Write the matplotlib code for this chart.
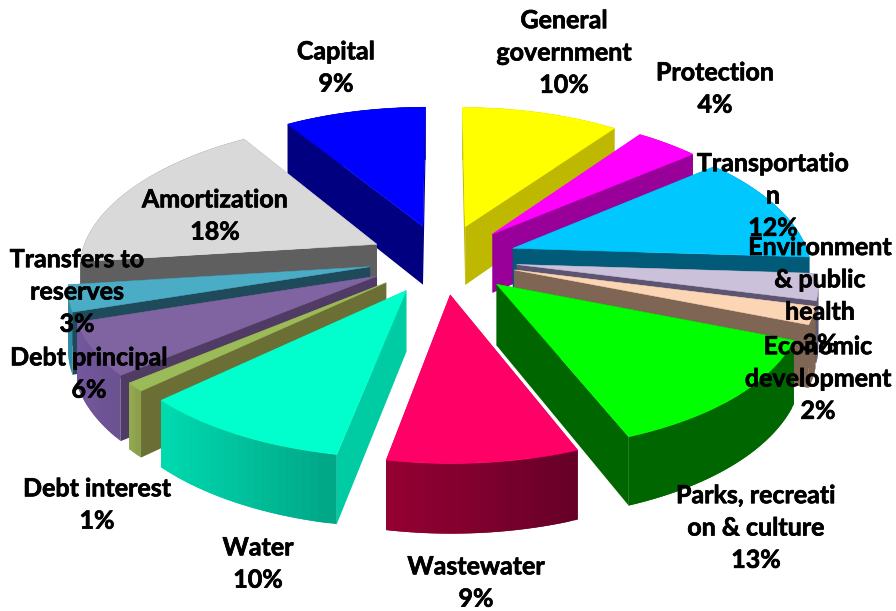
import numpy as np
import matplotlib
matplotlib.use("Agg")
import matplotlib.pyplot as plt
import matplotlib.patheffects as pe
from matplotlib.colors import to_rgb

# budget shares, clockwise from 12 o'clock
names = ["General\ngovernment", "Protection", "Transportatio\nn",
         "Environment\n& public\nhealth", "Economic\ndevelopment",
         "Parks, recreati\non & culture", "Wastewater", "Water", "Debt interest",
         "Debt principal", "Transfers to\nreserves", "Amortization", "Capital"]
values = [10, 4, 12, 3, 2, 13, 9, 10, 1, 6, 3, 18, 9]

top_colors = ["#FFFF00", "#FF00FF", "#00C8FF", "#CCC1DA", "#FCD5B5", "#00FF00", "#FF0066",
              "#00FFCC", "#9BBB59", "#8064A2", "#4BACC6", "#D9D9D9", "#0000FF"]
side_colors = ["#BFB800", "#990099", "#005A78", "#5C5470", "#7F6654", "#006600", "#8A0038",
               "#00CCA3", "#6B6F36", "#4F3B63", "#1E4A5A", "#5F5F5F", "#000080"]
# outer rim, colour at left and right end of the slice
rim_left = ["#BFB800", "#990099", "#005A78", "#5C5470", "#7F6654", "#006600", "#990033",
            "#00DDB2", "#9BAF55", "#7558A0", "#2F8CA6", "#5F5F5F", "#000080"]
rim_right = ["#BFB800", "#990099", "#005A78", "#5C5470", "#7F6654", "#006600", "#660028",
             "#00A888", "#8CA04C", "#6B5290", "#2F8CA6", "#5F5F5F", "#000080"]

# label centres in pixels
label_x = [564, 715, 773, 820, 818, 756, 476, 258, 97, 89, 77, 215, 336]
label_y = [53, 89, 196, 296, 379, 528, 583, 564, 505, 374, 292, 216, 68]

# projection of the pie plane to the picture
x0, y0 = 443, 259
rx, ry = 297, 140
persp = 0.116
back_narrow = 0.03
depth = 60
explode = 0.25


def project(X, Y, z=0.0):
    w = 1 - persp * Y
    wx = w - back_narrow * np.minimum(Y, 0)
    return x0 + rx * X / wx, y0 + (ry * Y + depth * z) / w


fig = plt.figure(figsize=(8.96, 6.11), dpi=100)
ax = fig.add_axes([0, 0, 1, 1])
ax.set_xlim(0, 896)
ax.set_ylim(611, 0)
ax.axis("off")

bounds = np.cumsum([0] + values) / sum(values) * 2 * np.pi
mids = (bounds[:-1] + bounds[1:]) / 2
draw_order = np.argsort(-np.cos(mids))

order = 1
for i in draw_order:
    a, b, m = bounds[i], bounds[i + 1], mids[i]
    ex, ey = explode * np.sin(m), -explode * np.cos(m)
    t = np.linspace(a, b, max(int((b - a) * 40), 6))
    X = ex + np.sin(t)
    Y = ey - np.cos(t)

    faces = []
    # radial walls
    for k in (0, -1):
        faces.append(((ey + Y[k]) / 2, [ex, X[k]], [ey, Y[k]], side_colors[i]))
    # outer rim, small overlapping strips for the shading
    c1, c2 = np.array(to_rgb(rim_left[i])), np.array(to_rgb(rim_right[i]))
    xa, xb = project(X[0], Y[0])[0], project(X[-1], Y[-1])[0]
    lo, hi = min(xa, xb), max(xa, xb)
    for k in range(len(t) - 1):
        n = min(k + 2, len(t) - 1)
        px = project(X[k], Y[k])[0]
        f = (px - lo) / (hi - lo) if hi > lo else 0
        faces.append(((Y[k] + Y[n]) / 2, X[k:n + 1], Y[k:n + 1], tuple(c1 + (c2 - c1) * f)))

    for _, fx, fy, col in sorted(faces, key=lambda q: q[0]):
        tx, ty = project(np.array(fx), np.array(fy))
        lx, ly = project(np.array(fx), np.array(fy), 1.0)
        order += 1
        ax.fill(np.r_[tx, lx[::-1]], np.r_[ty, ly[::-1]], facecolor=col, edgecolor="none",
                linewidth=0, zorder=order)

    # top of the slice
    tx, ty = project(np.r_[ex, X], np.r_[ey, Y])
    order += 1
    ax.fill(tx, ty, facecolor=top_colors[i], edgecolor=top_colors[i], linewidth=0.4, zorder=order)

for name, v, lx, ly in zip(names, values, label_x, label_y):
    ax.text(lx, ly, f"{name}\n{v}%", ha="center", va="center", family="Lato",
            fontweight="bold", fontsize=18, linespacing=1.49, color="black",
            zorder=order + 1, clip_on=False,
            path_effects=[pe.withStroke(linewidth=0.5, foreground="black")])

fig.savefig("out.png", dpi=100)
